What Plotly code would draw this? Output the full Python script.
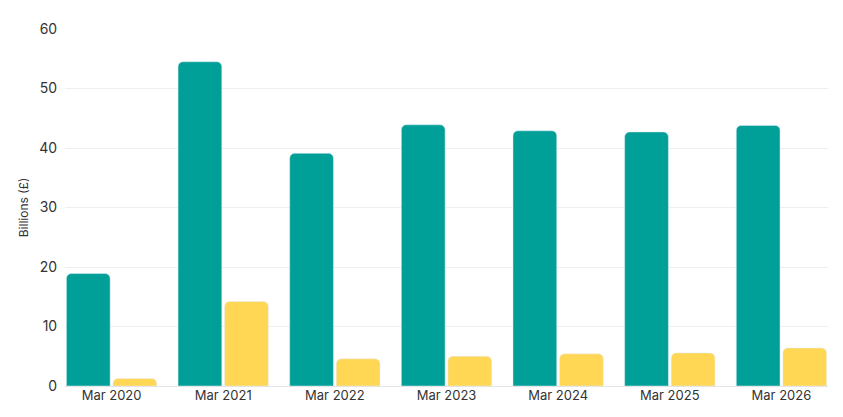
import plotly.graph_objects as go

years = ['Mar 2020', 'Mar 2021', 'Mar 2022', 'Mar 2023', 'Mar 2024', 'Mar 2025', 'Mar 2026']
teal_vals = [18.9, 54.5, 39.1, 43.9, 42.9, 42.7, 43.8]
yellow_vals = [1.27, 14.2, 4.57, 5.0, 5.4, 5.56, 6.39]

fig = go.Figure()

fig.add_trace(go.Bar(x=years, y=teal_vals,
                     name='Series 1',
                     marker_color='#00A098'))
fig.add_trace(go.Bar(x=years, y=yellow_vals,
                     name='Series 2',
                     marker_color='#FFD754'))

gap = 0.166
# page body adds 8px offset, so the figure is a bit smaller than the window
fig.update_layout(
    width=835,
    height=409,
    margin=dict(l=57, r=15, t=15, b=31),
    barmode='group',
    bargap=gap,
    bargroupgap=0.06,
    barcornerradius=5,
    showlegend=False,
    plot_bgcolor='white',
    paper_bgcolor='white',
    font=dict(family='Inter', size=13, color='#333333'),
    xaxis=dict(
        range=[-0.5 + gap / 2, len(years) - 0.5 - gap / 2],
        showgrid=False,
        showline=False,
        ticks='',
        tickfont=dict(family='Inter', size=13, color='#333333'),
    ),
    yaxis=dict(
        range=[0, 60],
        dtick=10,
        showgrid=True,
        gridcolor='#EFEFEF',
        zeroline=True,
        zerolinecolor='#E4E4E4',
        zerolinewidth=1,
        ticks='outside',
        ticklen=4,
        tickcolor='rgba(0,0,0,0)',
        tickfont=dict(family='Inter', size=14, color='#333333'),
        title=dict(text='Billions (£)', font=dict(family='Inter', size=12, color='#333333'), standoff=8),
    ),
)

fig.write_html("out.html")
